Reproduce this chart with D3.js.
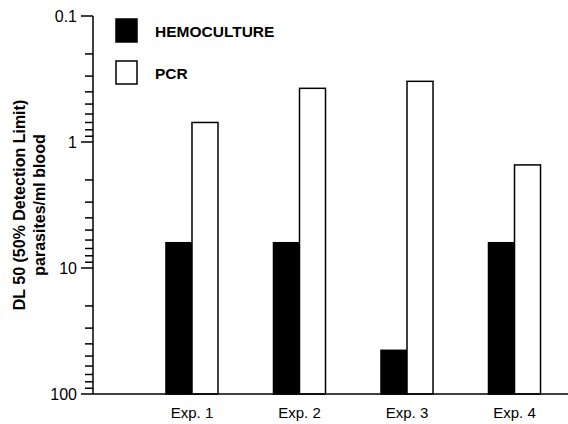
<!DOCTYPE html>
<html>
<head>
<meta charset="utf-8">
<script src="https://cdn.jsdelivr.net/npm/d3@7"></script>
<style>
  body { margin: 0; background: #fff; }
  text { font-family: "Liberation Sans", Arial, sans-serif; fill: #000; }
</style>
</head>
<body>
<svg id="chart" width="568" height="424"></svg>
<script>
// data
var experiments = ["Exp. 1", "Exp. 2", "Exp. 3", "Exp. 4"];
var hemoculture = [6.3, 6.3, 45, 6.3];
var pcr = [0.70, 0.375, 0.33, 1.52];
var series = ["HEMOCULTURE", "PCR"];
var yTicks = [0.1, 1, 10, 100];

var svg = d3.select("#chart");

// log axis, 0.1 at top, 100 at bottom
var y = d3.scaleLog().domain([0.1, 100]).range([16, 394]);
var x = d3.scaleBand().domain(experiments).range([110.5, 596]).paddingInner(0.516).paddingOuter(0.516);
var xs = d3.scaleBand().domain(series).range([0, x.bandwidth()]);

var axisX = 93;

// minor + major ticks
var minor = [];
[0.1, 1, 10].forEach(function(d) {
  for (var k = 2; k <= 9; k++) minor.push(d * k);
});
svg.append("g").selectAll("line.minor").data(minor).join("line")
  .attr("x1", axisX - 8).attr("x2", axisX)
  .attr("y1", function(d) { return y(d); }).attr("y2", function(d) { return y(d); })
  .style("stroke", "#000").style("stroke-width", 1.5);

svg.append("g").selectAll("line.major").data(yTicks).join("line")
  .attr("x1", axisX - 12).attr("x2", axisX)
  .attr("y1", function(d) { return y(d); }).attr("y2", function(d) { return y(d); })
  .style("stroke", "#000").style("stroke-width", 1.5);

svg.append("g").selectAll("text").data(yTicks).join("text")
  .attr("x", axisX - 16).attr("y", function(d) { return y(d); })
  .attr("dy", "0.35em").attr("text-anchor", "end")
  .style("font-size", "16px")
  .text(function(d) { return d; });

// axis lines
svg.append("line").attr("x1", axisX).attr("x2", axisX).attr("y1", y(0.1)).attr("y2", y(100))
  .style("stroke", "#000").style("stroke-width", 1.5);

// bars
var rows = experiments.map(function(e, i) {
  return { exp: e, vals: [hemoculture[i], pcr[i]] };
});
var groups = svg.append("g").selectAll("g").data(rows).join("g")
  .attr("transform", function(d) { return "translate(" + x(d.exp) + ",0)"; });

groups.selectAll("rect").data(function(d) {
  return series.map(function(s, j) { return { s: s, v: d.vals[j] }; });
}).join("rect")
  .attr("x", function(d) { return xs(d.s); })
  .attr("width", xs.bandwidth())
  .attr("y", function(d) { return y(d.v); })
  .attr("height", function(d) { return y(100) - y(d.v); })
  .style("fill", function(d) { return d.s === "PCR" ? "#fff" : "#000"; })
  .style("stroke", "#000").style("stroke-width", 1.5);

svg.append("line").attr("x1", axisX).attr("x2", 568).attr("y1", y(100)).attr("y2", y(100))
  .style("stroke", "#000").style("stroke-width", 1.5);

// x labels
svg.append("g").selectAll("text").data(experiments).join("text")
  .attr("x", function(d) { return x(d) + x.bandwidth() / 2; })
  .attr("y", 418)
  .attr("text-anchor", "middle")
  .style("font-size", "15px")
  .text(function(d) { return d; });

// y title
var yt = svg.append("text").attr("transform", "translate(25,205) rotate(-90)")
  .attr("text-anchor", "middle").style("font-size", "16px").style("font-weight", "bold");
yt.append("tspan").attr("x", 0).attr("dy", 0).text("DL 50 (50% Detection Limit)");
yt.append("tspan").attr("x", 0).attr("dy", 20).text("parasites/ml blood");

// legend
var legend = svg.append("g").selectAll("g").data(series).join("g")
  .attr("transform", function(d, i) { return "translate(116," + (19 + i * 42) + ")"; });
legend.append("rect").attr("width", 21).attr("height", 23)
  .style("fill", function(d) { return d === "PCR" ? "#fff" : "#000"; })
  .style("stroke", "#000").style("stroke-width", 1.5);
legend.append("text").attr("x", 39).attr("y", 17.5)
  .style("font-size", "15.5px").style("font-weight", "bold")
  .text(function(d) { return d; });
</script>
</body>
</html>
